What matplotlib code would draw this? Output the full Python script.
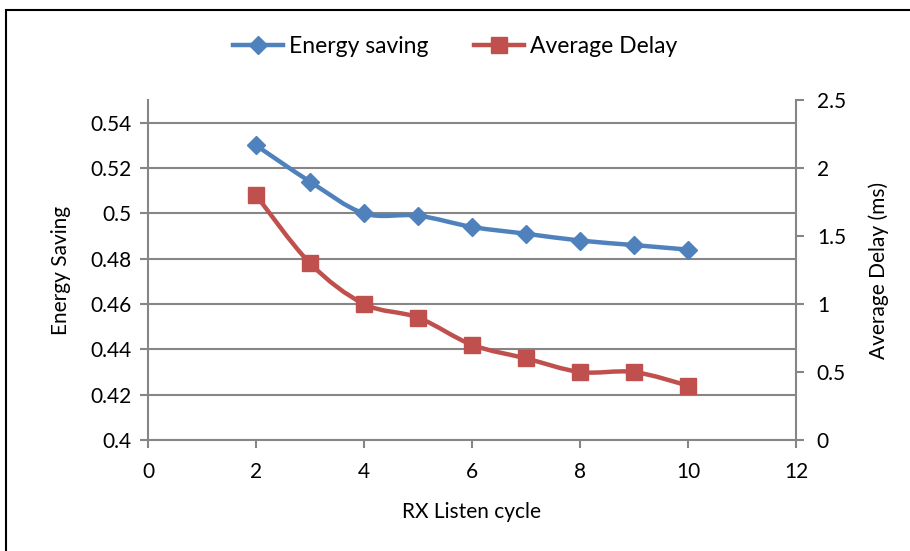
import numpy as np
import matplotlib
matplotlib.use('Agg')
import matplotlib.pyplot as plt
from matplotlib.path import Path
from matplotlib.patches import PathPatch, Rectangle
from matplotlib.lines import Line2D

plt.rcParams['font.family'] = ['Lato', 'DejaVu Sans']

rx_cycle = [2, 3, 4, 5, 6, 7, 8, 9, 10]
energy_saving = [0.530, 0.514, 0.500, 0.499, 0.494, 0.491, 0.488, 0.486, 0.484]
avg_delay = [1.8, 1.3, 1.0, 0.9, 0.7, 0.6, 0.5, 0.5, 0.4]

BLUE = '#4F81BD'
RED = '#C0504D'
GREY = '#868686'
FS = 15


def smooth_path(x, y):
    # bezier segments through every point, like a spreadsheet "smoothed line"
    p = np.column_stack([x, y]).astype(float)
    verts = [p[0]]
    codes = [Path.MOVETO]
    n = len(p)
    for i in range(n - 1):
        p0 = p[i - 1] if i > 0 else p[i]
        p3 = p[i + 2] if i + 2 < n else p[i + 1]
        c1 = p[i] + (p[i + 1] - p0) / 6
        c2 = p[i + 1] - (p3 - p[i]) / 6
        verts += [c1, c2, p[i + 1]]
        codes += [Path.CURVE4] * 3
    return Path(verts, codes)


fig = plt.figure(figsize=(9.1, 5.51), dpi=100)
ax = fig.add_axes([148 / 910, 111 / 551, 648 / 910, 340 / 551])
ax2 = ax.twinx()

ax.set_xlim(0, 12)
ax.set_ylim(0.4, 0.55)
ax2.set_ylim(0, 2.5)
ax.set_xticks(range(0, 13, 2))
ax.set_yticks(np.arange(0.4, 0.541, 0.02))
ax.set_yticklabels(['0.4', '0.42', '0.44', '0.46', '0.48', '0.5', '0.52', '0.54'])
ax2.set_yticks([0, 0.5, 1, 1.5, 2, 2.5])
ax2.set_yticklabels(['0', '0.5', '1', '1.5', '2', '2.5'])

ax.yaxis.grid(True, color=GREY, linewidth=1.5)
ax.set_axisbelow(True)

for a in (ax, ax2):
    a.spines['top'].set_visible(False)
    for side in ('left', 'right', 'bottom'):
        a.spines[side].set_color(GREY)
        a.spines[side].set_linewidth(1.5)
    a.tick_params(colors=GREY, width=1.5, length=6, labelsize=FS,
                  labelcolor='black')
ax.spines['right'].set_visible(False)
ax2.spines['left'].set_visible(False)
ax2.spines['bottom'].set_visible(False)
ax.tick_params(axis='y', pad=6)
ax.tick_params(axis='x', pad=10)
ax2.tick_params(axis='y', pad=9)

ax.add_patch(PathPatch(smooth_path(rx_cycle, energy_saving), fill=False,
                       edgecolor=BLUE, linewidth=3.2, capstyle='round',
                       joinstyle='round'))
ax.plot(rx_cycle, energy_saving, linestyle='none', marker='D', markersize=9,
        color=BLUE)
ax2.add_patch(PathPatch(smooth_path(rx_cycle, avg_delay), fill=False,
                        edgecolor=RED, linewidth=3.2, capstyle='round',
                        joinstyle='round'))
ax2.plot(rx_cycle, avg_delay, linestyle='none', marker='s', markersize=11,
         color=RED)

ax.set_xlabel('RX Listen cycle', fontsize=FS, labelpad=14)
ax.set_ylabel('Energy Saving', fontsize=FS, labelpad=14)
ax2.set_ylabel('Average Delay (ms)', fontsize=FS, labelpad=16)

handles = [
    Line2D([], [], color=BLUE, linewidth=3.2, marker='D', markersize=9),
    Line2D([], [], color=RED, linewidth=3.2, marker='s', markersize=11),
]
fig.legend(handles, ['Energy saving', 'Average Delay'], loc='center',
           bbox_to_anchor=(0.5, 1 - 47 / 551), ncol=2, frameon=False,
           fontsize=16.5, handlelength=2.2, handletextpad=0.25,
           columnspacing=2.0)

fig.patches.append(Rectangle((6 / 910, -0.1), 2, 1 - 10 / 551 + 0.1,
                             transform=fig.transFigure, fill=False,
                             edgecolor='black', linewidth=1.5))

fig.savefig('out.png', dpi=100)
